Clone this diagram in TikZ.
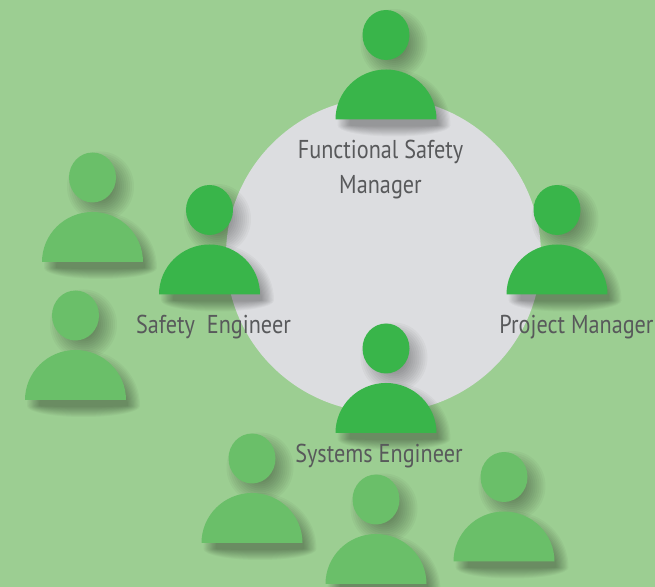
\documentclass[tikz,border=0pt]{standalone}
\usepackage{fontspec}
\setmainfont[FakeStretch=0.86]{PT Sans}
\definecolor{backgreen}{HTML}{9CCE92}
\definecolor{teamgreen}{HTML}{39B54A}
\definecolor{othergreen}{HTML}{6ABF69}
\definecolor{circlegray}{HTML}{DCDDE0}
\definecolor{labelgray}{HTML}{58595B}
\tikzset{
	rolelabel/.style={text=labelgray, font=\fontsize{14.7}{19.8}\selectfont, align=center, inner sep=0pt},
	person/.pic={
		% soft shadow, lower right
		\foreach \d in {-10,-8,...,10} {
			\fill[black, opacity=0.032] (8,75.5) ellipse ({23.5+\d} and {25+\d});
			\fill[black, opacity=0.032] ({8-50.5-0.6*\d},-6) arc (180:0:{50.5+0.6*\d} and {46+\d}) arc (0:-180:{50.5+0.6*\d} and {6+0.5*\d});
		}
		\fill[pic actions] (0,84.5) ellipse (23.5 and 25);
		\fill[pic actions] (-50.5,0) arc (180:0:50.5 and 50) --cycle;
	}
}
\begin{document}
\begin{tikzpicture}[x=0.02cm, y=0.02cm, line join=round, line cap=round]
	\clip (0,0) rectangle (655,587);
	\fill[backgreen] (0,0) rectangle (655,587);
	\fill[circlegray] (383.5,332) circle (157.5);

	% the others, outside the circle
	\pic[fill=othergreen] at (92.5,325) {person};
	\pic[fill=othergreen] at (75.5,187) {person};
	\pic[fill=othergreen] at (252,44) {person};
	\pic[fill=othergreen] at (376,3) {person};
	\pic[fill=othergreen] at (504,25.5) {person};

	% the team on the circle
	\pic[fill=teamgreen] at (386,467.5) {person};
	\pic[fill=teamgreen] at (209.5,292.5) {person};
	\pic[fill=teamgreen] at (557,292.5) {person};
	\pic[fill=teamgreen] at (386,154) {person};

	\node[rolelabel] (fsm) at (380.5,417.5) {Functional Safety\\Manager};
	\node[rolelabel] (se) at (213.5,260) {Safety\ \ Engineer};
	\node[rolelabel] (pm) at (576.5,260) {Project Manager};
	\node[rolelabel] (sys) at (379,131) {Systems Engineer};
\end{tikzpicture}
\end{document}
